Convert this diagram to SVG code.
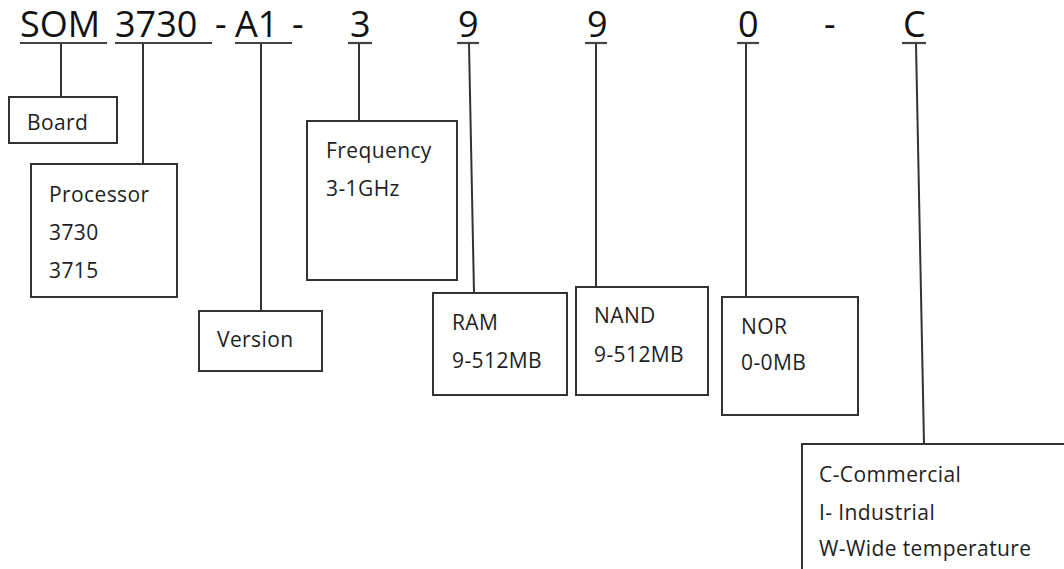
<svg xmlns="http://www.w3.org/2000/svg" width="1064" height="569" viewBox="0 0 1064 569">
<style>
.t{font-family:"Open Sans","Liberation Sans",sans-serif;font-size:21px;fill:#1e1e1e;letter-spacing:0.4px}
.h{font-family:"Open Sans","Liberation Sans",sans-serif;font-size:36px;fill:#111}
.box{fill:#fff;stroke:#333;stroke-width:2}
.ul{stroke:#444;stroke-width:2.2}
.c{stroke:#333;stroke-width:2;fill:none}
</style>
<rect width="1064" height="569" fill="#fff"/>
<g id="code">
<text class="h" x="20" y="37">SOM</text>
<text class="h" x="115" y="37">3730</text>
<text class="h" x="215" y="37">-</text>
<text class="h" x="235" y="37">A1</text>
<text class="h" x="292" y="37">-</text>
<text class="h" x="350" y="37">3</text>
<text class="h" x="458" y="37">9</text>
<text class="h" x="587" y="37">9</text>
<text class="h" x="738" y="37">0</text>
<text class="h" x="824" y="37">-</text>
<text class="h" x="903" y="37">C</text>
<line class="ul" x1="20" y1="43" x2="107" y2="43"/>
<line class="ul" x1="115" y1="43" x2="212" y2="43"/>
<line class="ul" x1="235" y1="43" x2="292" y2="43"/>
<line class="ul" x1="348" y1="43" x2="372" y2="43"/>
<line class="ul" x1="457" y1="43" x2="479" y2="43"/>
<line class="ul" x1="585" y1="43" x2="607" y2="43"/>
<line class="ul" x1="737" y1="43" x2="759" y2="43"/>
<line class="ul" x1="902" y1="43" x2="926" y2="43"/>
</g>
<g id="connectors">
<line class="c" x1="61" y1="44" x2="61" y2="97"/>
<line class="c" x1="143" y1="44" x2="143" y2="164"/>
<line class="c" x1="261" y1="44" x2="261" y2="311"/>
<line class="c" x1="359" y1="44" x2="359" y2="121"/>
<line class="c" x1="469" y1="44" x2="474" y2="293"/>
<line class="c" x1="596" y1="44" x2="596" y2="287"/>
<line class="c" x1="746" y1="44" x2="746" y2="297"/>
<line class="c" x1="916" y1="44" x2="924" y2="444"/>
</g>
<g id="board">
<rect class="box" x="9" y="97" width="108" height="46"/>
<text class="t" x="27" y="130">Board</text>
</g>
<g id="processor">
<rect class="box" x="31" y="164" width="146" height="133"/>
<text class="t" x="49" y="202">Processor</text>
<text class="t" x="49" y="240">3730</text>
<text class="t" x="49" y="278">3715</text>
</g>
<g id="version">
<rect class="box" x="199" y="311" width="123" height="60"/>
<text class="t" x="217" y="347">Version</text>
</g>
<g id="frequency">
<rect class="box" x="307" y="121" width="150" height="159"/>
<text class="t" x="326" y="158">Frequency</text>
<text class="t" x="326" y="196">3-1GHz</text>
</g>
<g id="ram">
<rect class="box" x="433" y="293" width="134" height="102"/>
<text class="t" x="452" y="330">RAM</text>
<text class="t" x="452" y="368">9-512MB</text>
</g>
<g id="nand">
<rect class="box" x="576" y="287" width="132" height="108"/>
<text class="t" x="594" y="323">NAND</text>
<text class="t" x="594" y="362">9-512MB</text>
</g>
<g id="nor">
<rect class="box" x="722" y="297" width="136" height="118"/>
<text class="t" x="741" y="334">NOR</text>
<text class="t" x="741" y="370">0-0MB</text>
</g>
<g id="temperature">
<rect class="box" x="802" y="444" width="280" height="140"/>
<text class="t" x="819" y="482">C-Commercial</text>
<text class="t" x="819" y="520">I- Industrial</text>
<text class="t" x="819" y="556">W-Wide temperature</text>
</g>
</svg>
